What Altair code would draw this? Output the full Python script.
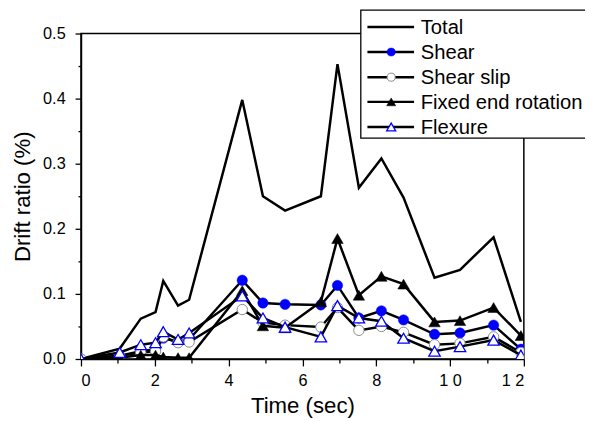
import altair as alt
import pandas as pd

# ---- data ----
time_sec = [0, 1.05, 1.62, 2.02, 2.23, 2.63, 2.93, 4.37, 4.93, 5.53, 6.50, 6.95,
            7.53, 8.14, 8.74, 9.58, 10.27, 11.18, 11.92]
total = [0, 0.016, 0.062, 0.072, 0.120, 0.082, 0.091, 0.398, 0.250, 0.228, 0.250,
         0.453, 0.263, 0.308, 0.248, 0.125, 0.137, 0.187, 0.057]
shear = [0, 0.005, 0.012, 0.015, 0.032, 0.026, 0.030, 0.121, 0.086, 0.084, 0.083,
         0.113, 0.063, 0.074, 0.060, 0.038, 0.040, 0.052, 0.015]
shear_slip = [0, 0.005, 0.010, 0.012, 0.034, 0.025, 0.026, 0.076, 0.056, 0.052, 0.049,
              0.079, 0.044, 0.050, 0.041, 0.022, 0.024, 0.034, 0.010]
fixed_end = [0, 0.002, 0.006, 0.006, 0.003, 0.002, 0.002, 0.105, 0.051, 0.048, 0.088,
             0.185, 0.098, 0.127, 0.115, 0.057, 0.059, 0.079, 0.036]
flexure = [0, 0.010, 0.022, 0.025, 0.042, 0.030, 0.040, 0.097, 0.063, 0.049, 0.034,
           0.082, 0.063, 0.058, 0.032, 0.012, 0.019, 0.029, 0.006]

series_names = ["Total", "Shear", "Shear slip", "Fixed end rotation", "Flexure"]
series_values = [total, shear, shear_slip, fixed_end, flexure]

x_tick_values = [0, 1, 2, 3, 4, 5, 6, 7, 8, 9, 10, 11, 12]
y_tick_values = [0.0, 0.05, 0.1, 0.15, 0.2, 0.25, 0.3, 0.35, 0.4, 0.45, 0.5]

FONT = "Liberation Sans"
BLUE = "#0000ff"

# marker styles per series (None = line only)
styles = {
    "Total": None,
    "Shear": dict(shape="circle", fill=BLUE, stroke=BLUE, strokeWidth=0.5),
    "Shear slip": dict(shape="circle", fill="white", stroke="#8a8a8a", strokeWidth=1),
    "Fixed end rotation": dict(shape="triangle-up", fill="black", stroke="black", strokeWidth=0.5),
    "Flexure": dict(shape="triangle-up", fill="white", stroke=BLUE, strokeWidth=1.3),
}
marker_size = {"circle": 110, "triangle-up": 135}
legend_size = {"circle": 66, "triangle-up": 85}

x_enc = alt.X(
    "t:Q",
    scale=alt.Scale(domain=[0, 12], nice=False, zero=False),
    axis=alt.Axis(
        values=x_tick_values,
        title="Time (sec)",
        grid=False,
        labelExpr="datum.value % 2 === 0 ? (datum.value >= 10 ? '1 ' + (datum.value - 10) : '' + datum.value) : ''",
        tickSize={"condition": {"test": "datum.value % 2 === 0", "value": 7}, "value": 4},
        labelPadding=7,
        titlePadding=6,
    ),
)
y_enc = alt.Y(
    "v:Q",
    scale=alt.Scale(domain=[0, 0.5], nice=False),
    axis=alt.Axis(
        values=y_tick_values,
        title="Drift ratio (%)",
        grid=False,
        labelExpr="round(datum.value * 100) % 10 === 0 ? format(datum.value, '.1f') : ''",
        tickSize={"condition": {"test": "round(datum.value * 100) % 10 === 0", "value": 6}, "value": 3},
        labelPadding=10,
        titlePadding=8,
    ),
)

layers = []
for name, vals in zip(series_names, series_values):
    df = pd.DataFrame({"t": time_sec, "v": vals, "series": name})
    base = alt.Chart(df)
    layers.append(base.mark_line(color="black", strokeWidth=2.5, clip=True).encode(x=x_enc, y=y_enc))
    st = styles[name]
    if st is not None:
        layers.append(
            base.mark_point(filled=True, opacity=1, size=marker_size[st["shape"]], clip=True, **st)
            .encode(x=x_enc, y=y_enc)
        )

# ---- legend (drawn as marks, positions relative to the plot area) ----
one = pd.DataFrame({"k": [0]})
box_left, box_right, box_top, box_bottom = 283.7, 540, -23.7, 106
layers.append(
    alt.Chart(one).mark_rect(fill="white", stroke="black", strokeWidth=1.3, clip=False).encode(
        x=alt.value(box_left), x2=alt.value(box_right), y=alt.value(box_top), y2=alt.value(box_bottom)
    )
)
legend_y = [-6.7, 18.8, 44.3, 69.3, 94.8]
for name, ly in zip(series_names, legend_y):
    layers.append(
        alt.Chart(one).mark_rule(color="black", strokeWidth=2.5, clip=False).encode(
            x=alt.value(290.4), x2=alt.value(337.7), y=alt.value(ly)
        )
    )
    st = styles[name]
    if st is not None:
        layers.append(
            alt.Chart(one).mark_point(filled=True, opacity=1, size=legend_size[st["shape"]], clip=False, **st).encode(
                x=alt.value(314.5), y=alt.value(ly)
            )
        )
    layers.append(
        alt.Chart(pd.DataFrame({"label": [name]})).mark_text(
            align="left", baseline="middle", font=FONT, fontSize=20.5, color="black", clip=False, dy=1
        ).encode(x=alt.value(344.4), y=alt.value(ly), text="label:N")
    )

chart = (
    alt.layer(*layers)
    .properties(
        width=449,
        height=330,
        autosize=alt.AutoSizeParams(type="none"),
        padding={"left": 74, "top": 23, "right": 62, "bottom": 60},
        background="white",
    )
    .configure_view(stroke="black", strokeWidth=1.5)
    .configure_axis(
        domainColor="black",
        domainWidth=1.5,
        tickColor="black",
        tickWidth=1.3,
        labelFont=FONT,
        labelFontSize=16.5,
        labelColor="black",
        titleFont=FONT,
        titleFontSize=22.5,
        titleFontWeight="normal",
        titleColor="black",
    )
)

chart.save("out.html", embed_options={"renderer": "svg", "actions": False})
